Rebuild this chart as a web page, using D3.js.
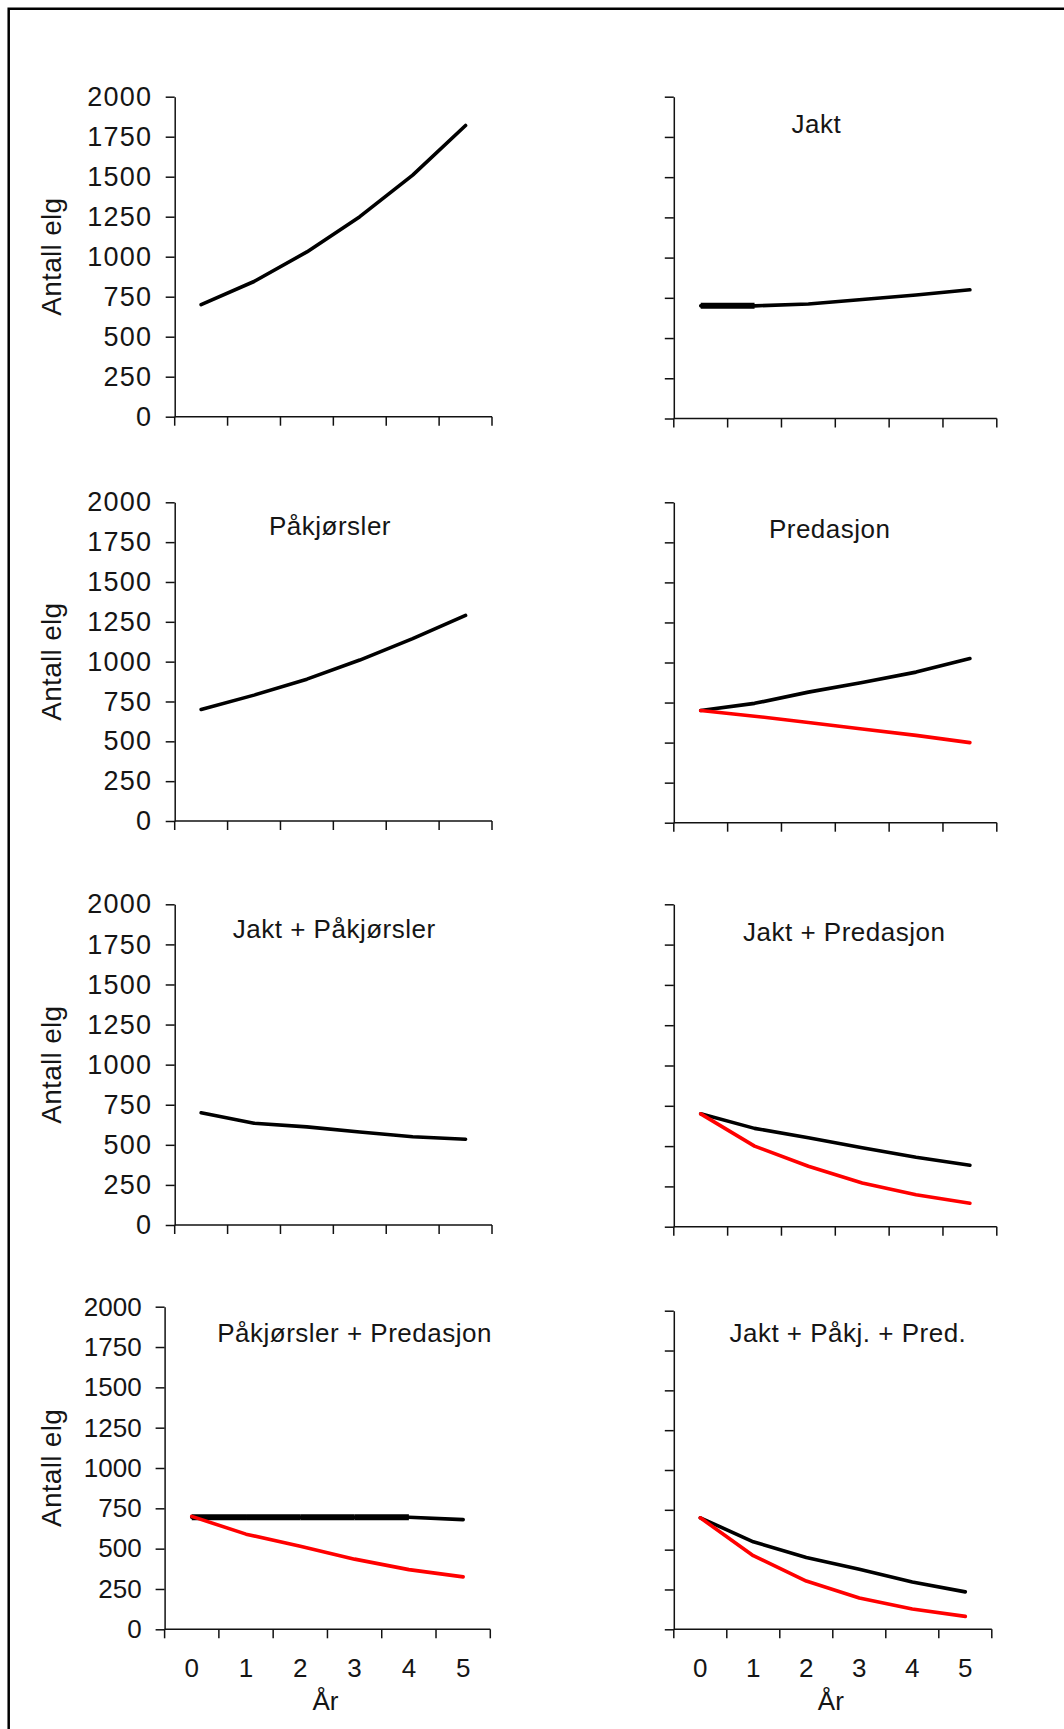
<!DOCTYPE html>
<html>
<head>
<meta charset="utf-8">
<script src="https://cdn.jsdelivr.net/npm/d3@7"></script>
<style>
  body { margin: 0; background: #fff; }
  text { font-family: "Liberation Sans", Arial, Helvetica, sans-serif; fill: #151515; }
</style>
</head>
<body>
<div id="chart"></div>
<script>
// Years on the x axis and the y tick values
var years = [0, 1, 2, 3, 4, 5];
var yTicks = [0, 250, 500, 750, 1000, 1250, 1500, 1750, 2000];

// Panel titles (first panel has none)
var titles = ["", "Jakt", "Påkjørsler", "Predasjon", "Jakt + Påkjørsler",
              "Jakt + Predasjon", "Påkjørsler + Predasjon", "Jakt + Påkj. + Pred."];

// Black lines, one per panel
var ingenTiltak       = [700, 845, 1030, 1250, 1510, 1820];
var jakt              = [700, 700, 712, 740, 768, 800];
var pakjorsler        = [700, 790, 890, 1010, 1145, 1290];
var predasjon         = [700, 745, 815, 875, 940, 1025];
var jaktPakjorsler    = [700, 635, 612, 580, 550, 535];
var jaktPredasjon     = [700, 610, 552, 490, 431, 381];
var pakjPredasjon     = [695, 695, 695, 695, 695, 680];
var jaktPakjPred      = [700, 549, 451, 377, 297, 235];

// Red lines (only the panels with predation)
var predasjonRed      = [700, 665, 625, 585, 545, 500];
var jaktPredasjonRed  = [700, 500, 375, 271, 198, 146];
var pakjPredasjonRed  = [700, 590, 515, 435, 370, 325];
var jaktPakjPredRed   = [700, 462, 303, 197, 127, 81];

var blackSeries = [ingenTiltak, jakt, pakjorsler, predasjon, jaktPakjorsler, jaktPredasjon, pakjPredasjon, jaktPakjPred];
var redSeries = [null, null, null, predasjonRed, null, jaktPredasjonRed, pakjPredasjonRed, jaktPakjPredRed];

// Plot boxes for the 8 panels: left, right, top (2000) and bottom (0), title anchor
var boxes = [
    { x0: 174.7, x1: 492.0, top: 96.7,   bottom: 416.7,  tx: 0,     ty: 0,      wide: true },
    { x0: 673.8, x1: 996.8, top: 96.7,   bottom: 418.5,  tx: 816.3, ty: 133,    wide: true },
    { x0: 174.7, x1: 492.0, top: 502.3,  bottom: 821,    tx: 330,   ty: 535,    wide: true },
    { x0: 673.8, x1: 996.8, top: 502.3,  bottom: 822.7,  tx: 829.7, ty: 538.3,  wide: true },
    { x0: 174.7, x1: 492.0, top: 904.3,  bottom: 1225,   tx: 334.2, ty: 938.3,  wide: true },
    { x0: 673.8, x1: 996.8, top: 904.3,  bottom: 1226.7, tx: 844.2, ty: 940.7,  wide: true },
    { x0: 164.6, x1: 490.3, top: 1306.7, bottom: 1629.3, tx: 354.6, ty: 1341.7, wide: false },
    { x0: 673.8, x1: 991.8, top: 1310.7, bottom: 1629.3, tx: 847.9, ty: 1341.7, wide: false }
];

var svg = d3.select("#chart")
    .append("svg")
    .attr("width", 1064)
    .attr("height", 1729);

// Outer frame (top and left edges are visible)
svg.append("path")
    .attr("d", "M8.7,1729V8.7H1064")
    .attr("fill", "none")
    .attr("stroke", "#000")
    .attr("stroke-width", 2.5);

boxes.forEach(function (b, i) {
    var leftCol = i % 2 === 0;
    var bottomRow = i >= 6;

    var x = d3.scaleBand().domain(years).range([b.x0, b.x1]).padding(0);
    var y = d3.scaleLinear().domain([0, 2000]).range([b.bottom, b.top]);
    var g = svg.append("g");

    // Y axis
    var yAxis = d3.axisLeft(y)
        .tickValues(yTicks)
        .tickSize(9)
        .tickSizeOuter(0)
        .tickPadding(b.wide ? 13.5 : 14)
        .tickFormat(leftCol ? d3.format("d") : function () { return ""; });
    var ya = g.append("g")
        .attr("transform", "translate(" + b.x0 + ",0)")
        .call(yAxis);
    ya.selectAll("path, line").attr("stroke", "#111").attr("stroke-width", 1.5);
    ya.selectAll("text")
        .style("font-size", b.wide ? "27px" : "26px")
        .style("letter-spacing", b.wide ? "1.2px" : "0px")
        .attr("fill", "#151515");

    // X axis: ticks at the band edges, labels at band centres
    var edges = years.map(function (d) { return x(d); }).concat([b.x1]);
    g.append("line")
        .attr("x1", b.x0).attr("x2", b.x1)
        .attr("y1", b.bottom).attr("y2", b.bottom)
        .attr("stroke", "#111").attr("stroke-width", 1.5);
    g.selectAll(".xtick")
        .data(edges)
        .enter().append("line")
        .attr("class", "xtick")
        .attr("x1", function (d) { return d; })
        .attr("x2", function (d) { return d; })
        .attr("y1", b.bottom)
        .attr("y2", b.bottom + 9)
        .attr("stroke", "#111").attr("stroke-width", 1.5);

    if (bottomRow) {
        g.selectAll(".xlabel")
            .data(years)
            .enter().append("text")
            .attr("x", function (d) { return x(d) + x.bandwidth() / 2; })
            .attr("y", b.bottom + 48)
            .attr("text-anchor", "middle")
            .style("font-size", "26px")
            .text(function (d) { return d; });
        g.append("text")
            .attr("x", (b.x0 + b.x1) / 2 - 2)
            .attr("y", b.bottom + 81)
            .attr("text-anchor", "middle")
            .style("font-size", "26px")
            .text("År");
    }

    if (leftCol) {
        g.append("text")
            .attr("transform", "translate(61," + (b.top + b.bottom) / 2 + ") rotate(-90)")
            .attr("text-anchor", "middle")
            .style("font-size", "28px")
            .style("letter-spacing", "0.3px")
            .text("Antall elg");
    }

    if (titles[i]) {
        g.append("text")
            .attr("x", b.tx)
            .attr("y", b.ty)
            .attr("text-anchor", "middle")
            .style("font-size", "26px")
            .style("letter-spacing", "0.5px")
            .text(titles[i]);
    }

    var line = d3.line()
        .x(function (d, k) { return x(years[k]) + x.bandwidth() / 2; })
        .y(function (d) { return y(d); });

    // Draw a series; flat stretches look heavier in the original, so thicken them
    function drawSeries(values, color) {
        g.append("path")
            .datum(values)
            .attr("d", line)
            .attr("fill", "none")
            .attr("stroke", color)
            .attr("stroke-width", 3.6)
            .attr("stroke-linecap", "round")
            .attr("stroke-linejoin", "round");
        for (var k = 0; k < values.length - 1; k++) {
            if (values[k] === values[k + 1]) {
                g.append("path")
                    .datum([values[k], values[k + 1]])
                    .attr("d", d3.line()
                        .x(function (d, j) { return x(years[k + j]) + x.bandwidth() / 2; })
                        .y(function (d) { return y(d); }))
                    .attr("fill", "none")
                    .attr("stroke", color)
                    .attr("stroke-width", 6);
            }
        }
    }

    drawSeries(blackSeries[i], "#000");
    if (redSeries[i]) drawSeries(redSeries[i], "#ff0000");
});
</script>
</body>
</html>
